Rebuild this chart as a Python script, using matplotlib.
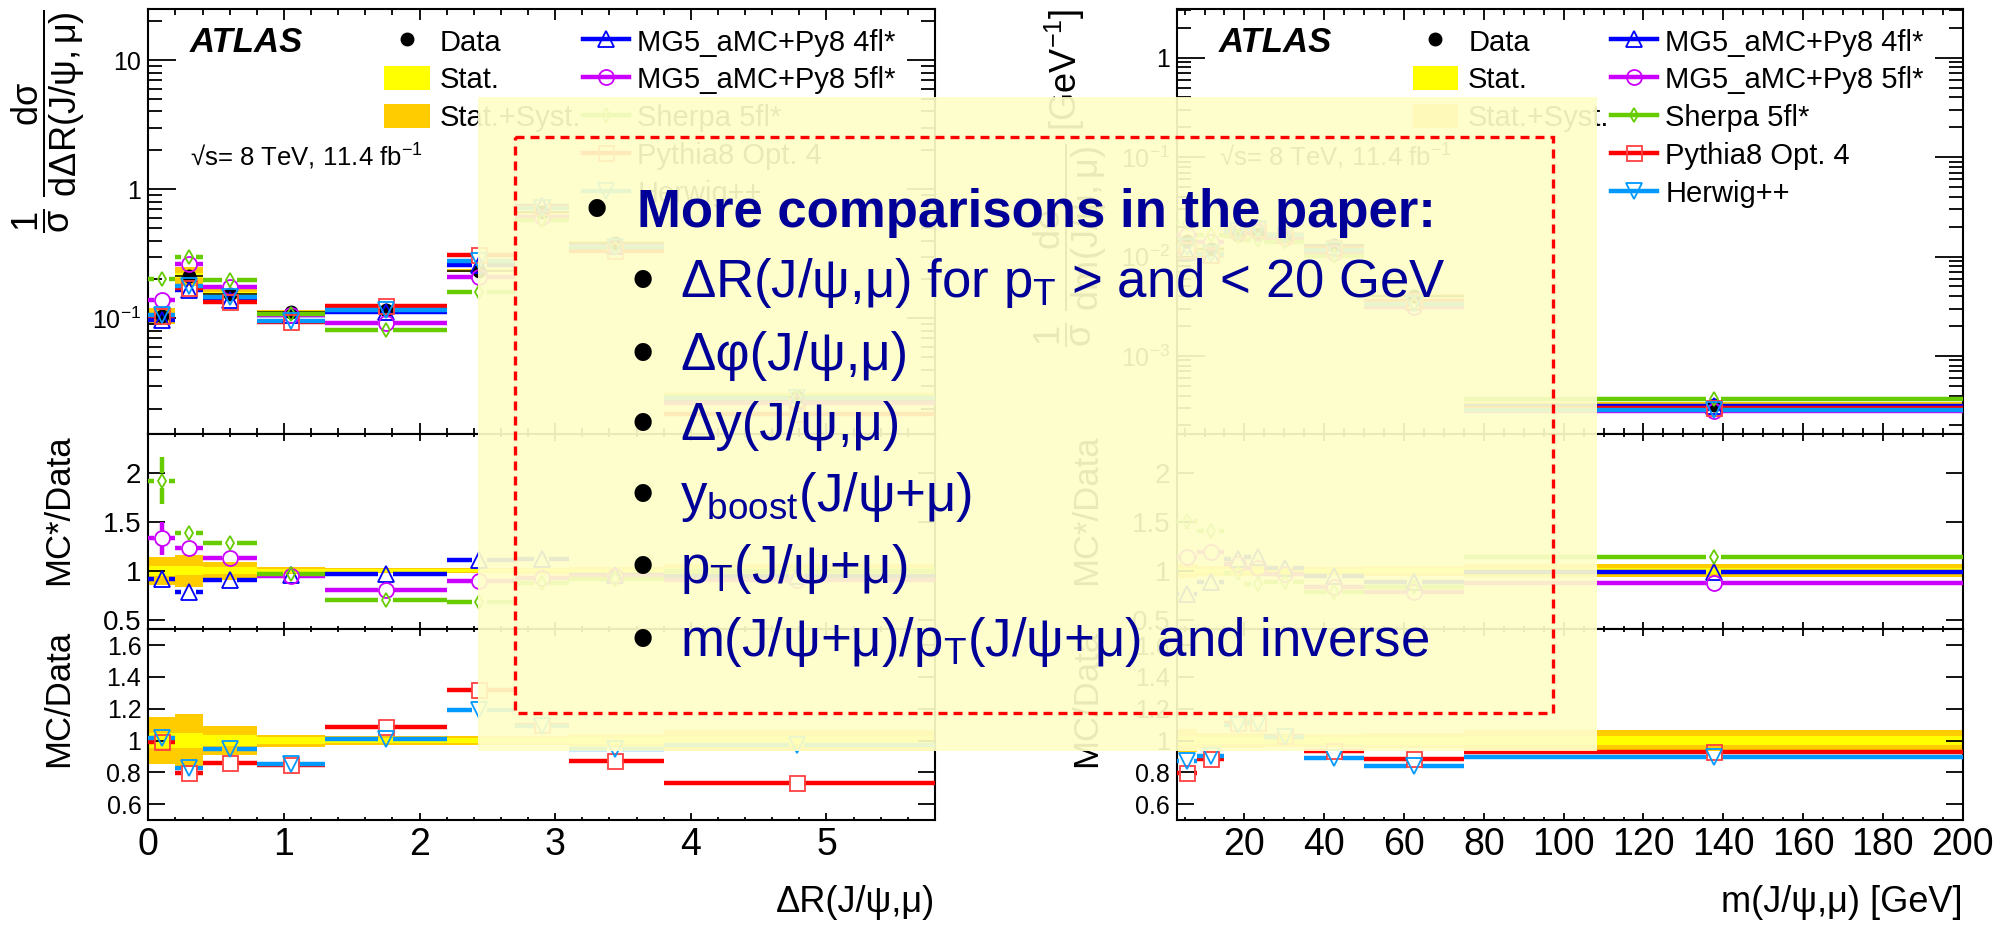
import numpy as np
import matplotlib
matplotlib.use("Agg")
import matplotlib.pyplot as plt
from matplotlib.lines import Line2D
from matplotlib.patches import Patch, Rectangle
from matplotlib.collections import LineCollection
from matplotlib.ticker import (FixedLocator, FuncFormatter, MultipleLocator,
                               LogLocator, NullFormatter, NullLocator)

plt.rcParams["font.family"] = ["Liberation Sans", "DejaVu Sans"]
plt.rcParams["mathtext.fontset"] = "custom"
plt.rcParams["mathtext.rm"] = "Liberation Sans"
plt.rcParams["mathtext.it"] = "Liberation Sans:italic"
plt.rcParams["mathtext.bf"] = "Liberation Sans:bold"
plt.rcParams["mathtext.sf"] = "Liberation Sans"
plt.rcParams["mathtext.default"] = "regular"

# ------------------------- data: Delta R(J/psi, mu) -------------------------
dr_edges = [0.0, 0.2, 0.4, 0.8, 1.3, 2.2, 2.7, 3.1, 3.8, 5.8]
dr_centres = [0.10, 0.30, 0.60, 1.05, 1.75, 2.44, 2.90, 3.44, 4.78]
dr_data = [0.105, 0.214, 0.155, 0.111, 0.115, 0.234, 0.66, 0.38, 0.0247]
dr_stat = [0.05, 0.045, 0.035, 0.02, 0.015, 0.015, 0.015, 0.02, 0.03]
dr_syst = [0.145, 0.165, 0.093, 0.038, 0.028, 0.028, 0.03, 0.04, 0.064]
dr_4fl = [0.92, 0.78, 0.90, 0.955, 0.97, 1.11, 1.12, 0.96, 0.95]
dr_5fl = [1.33, 1.23, 1.13, 0.95, 0.80, 0.89, 0.93, 0.95, 0.90]
dr_sherpa = [1.92, 1.39, 1.28, 0.965, 0.70, 0.68, 0.87, 0.92, 1.00]
dr_pythia = [0.99, 0.795, 0.86, 0.847, 1.088, 1.32, 1.10, 0.874, 0.73]
dr_herwig = [1.015, 0.83, 0.945, 0.853, 1.01, 1.19, 1.09, 0.945, 0.97]
dr_4fl_err = [0.08, 0.03, 0.02, 0.01, 0.01, 0.01, 0.01, 0.01, 0.01]
dr_5fl_err = [0.17, 0.04, 0.02, 0.01, 0.01, 0.01, 0.01, 0.01, 0.01]
dr_sherpa_err = [0.24, 0.05, 0.03, 0.02, 0.01, 0.01, 0.01, 0.01, 0.02]

# ------------------------- data: m(J/psi, mu) -------------------------
m_edges = [3.1, 8, 15, 20, 25, 35, 50, 75, 200]
m_centres = [5.6, 11.7, 18.5, 23.5, 30.2, 42.5, 62.5, 137.6]
m_data = [0.0145, 0.0118, 0.0165, 0.017, 0.016, 0.013, 0.0040, 3.2e-4]
m_stat = [0.03, 0.02, 0.02, 0.02, 0.02, 0.02, 0.025, 0.03]
m_syst = [0.07, 0.05, 0.05, 0.05, 0.04, 0.04, 0.05, 0.065]
m_4fl = [0.76, 0.88, 1.12, 1.14, 1.03, 0.95, 0.88, 0.99]
m_5fl = [1.14, 1.19, 1.07, 1.03, 0.97, 0.83, 0.78, 0.87]
m_sherpa = [1.51, 1.41, 0.98, 0.86, 0.88, 0.78, 0.83, 1.14]
m_pythia = [0.795, 0.883, 1.11, 1.11, 1.03, 0.935, 0.883, 0.927]
m_herwig = [0.87, 0.90, 1.10, 1.11, 1.02, 0.893, 0.84, 0.895]
m_4fl_err = [0.05, 0.03, 0.03, 0.03, 0.02, 0.02, 0.02, 0.02]
m_5fl_err = [0.06, 0.03, 0.03, 0.03, 0.02, 0.02, 0.02, 0.02]
m_sherpa_err = [0.08, 0.05, 0.03, 0.03, 0.02, 0.02, 0.02, 0.02]

legend_data = ["Data", "Stat.", "Stat.+Syst."]
legend_mc = ["MG5_aMC+Py8 4fl*", "MG5_aMC+Py8 5fl*", "Sherpa 5fl*",
             "Pythia8 Opt. 4", "Herwig++"]
overlay_title = "More comparisons in the paper:"
overlay_items = [
    "ΔR(J/ψ,μ) for p$_\\mathrm{T}$ > and < 20 GeV",
    "Δφ(J/ψ,μ)",
    "Δy(J/ψ,μ)",
    "y$_\\mathrm{boost}$(J/ψ+μ)",
    "p$_\\mathrm{T}$(J/ψ+μ)",
    "m(J/ψ+μ)/p$_\\mathrm{T}$(J/ψ+μ) and inverse",
]

# ------------------------- style -------------------------
BLUE = "#0000FF"
MAGENTA = "#CC00FF"
GREEN = "#66CC00"
RED = "#FF0000"
LBLUE = "#0099FF"
YELLOW = "#FFFF00"
ORANGE = "#FFCC00"
NAVY = "#000099"
MC_LW = 3.2
GAP = 7.5  # px gap around hollow markers (ROOT style)

W, H = 2014, 925
fig = plt.figure(figsize=(W / 100, H / 100), dpi=100)


def px_axes(x0, x1, y0, y1):
    return [x0 / W, 1 - y1 / H, (x1 - x0) / W, (y1 - y0) / H]


COLS = [(148.3, 935.0), (1177.0, 1962.7)]
ROWY = [(9.3, 434.0), (434.0, 629.3), (629.3, 820.0)]


def gapped_segments(ax, lo, hi, xc, y, elo=None, ehi=None):
    T = ax.transData
    inv = T.inverted()
    segs = []
    for i, (a, b, c, v) in enumerate(zip(lo, hi, xc, y)):
        xd, yd = T.transform((c, v))
        left = inv.transform((xd - GAP, yd))[0]
        right = inv.transform((xd + GAP, yd))[0]
        if left > a:
            segs.append([(a, v), (left, v)])
        if right < b:
            segs.append([(right, v), (b, v)])
        if elo is not None:
            below = inv.transform((xd, yd - GAP))[1]
            above = inv.transform((xd, yd + GAP))[1]
            if v - elo[i] < below:
                segs.append([(c, v - elo[i]), (c, below)])
            if v + ehi[i] > above:
                segs.append([(c, above), (c, v + ehi[i])])
    return segs


def draw_mc(ax, edges, xc, vals, errs, color, marker, ms, mec, z):
    lo = edges[:-1]
    hi = edges[1:]
    vals = np.asarray(vals, float)
    if errs is not None:
        errs = np.asarray(errs, float)
        segs = gapped_segments(ax, lo, hi, xc, vals, errs, errs)
    else:
        segs = gapped_segments(ax, lo, hi, xc, vals)
    ax.add_collection(LineCollection(segs, colors=color, linewidths=MC_LW,
                                     zorder=z, capstyle="butt"), autolim=False)
    ax.plot(xc, vals, ls="none", marker=marker, ms=ms, mfc="none", mec=mec,
            mew=1.3, zorder=z + 0.2)


def draw_bands(ax, edges, centre, syst, stat):
    lo = np.asarray(edges[:-1], float)
    hi = np.asarray(edges[1:], float)
    c = np.asarray(centre, float)
    sy = np.asarray(syst, float)
    st = np.asarray(stat, float)
    ax.bar(lo, 2 * c * sy, width=hi - lo, bottom=c * (1 - sy), align="edge",
           color=ORANGE, lw=0, zorder=1)
    ax.bar(lo, 2 * c * st, width=hi - lo, bottom=c * (1 - st), align="edge",
           color=YELLOW, lw=0, zorder=1.1)


def log_fmt(v, pos):
    e = int(round(np.log10(v)))
    if e == 0:
        return "1"
    if e == 1:
        return "10"
    return r"$10^{%d}$" % e


def g_fmt(v, pos):
    return "%g" % v


def style(a, xmaj, xmin, ymaj, ymin, ylab, showx):
    a.tick_params(which="both", direction="in", top=True, right=True,
                  width=1.3, colors="black")
    a.tick_params(axis="x", which="major", length=xmaj, labelsize=27, pad=5,
                  labelbottom=showx)
    a.tick_params(axis="x", which="minor", length=xmin)
    a.tick_params(axis="y", which="major", length=ymaj, labelsize=ylab, pad=5)
    a.tick_params(axis="y", which="minor", length=ymin)
    for s in a.spines.values():
        s.set_linewidth(1.5)


SPEC_STAR = [(BLUE, "^", 11.5, BLUE), (MAGENTA, "o", 10.8, MAGENTA),
             (GREEN, "d", 7.6, GREEN)]
SPEC_PLAIN = [(RED, "s", 10.8, "#FF4040"), (LBLUE, "v", 11.5, LBLUE)]


def build_column(col, edges, xc, data, stat, syst, star, star_err, plain,
                 xlim, top_ylim, xmaj, xmin, xlabel, ylabel_top, ylab_x):
    x0, x1 = COLS[col]
    at = fig.add_axes(px_axes(x0, x1, *ROWY[0]))
    am = fig.add_axes(px_axes(x0, x1, *ROWY[1]))
    ab = fig.add_axes(px_axes(x0, x1, *ROWY[2]))
    at.set_yscale("log")
    for a in (at, am, ab):
        a.set_xlim(*xlim)
        a.set_autoscale_on(False)
        a.xaxis.set_major_locator(MultipleLocator(xmaj))
        a.xaxis.set_minor_locator(MultipleLocator(xmin))
        a.xaxis.set_major_formatter(FuncFormatter(g_fmt))
    at.set_ylim(*top_ylim)
    am.set_ylim(0.4, 2.4)
    ab.set_ylim(0.5, 1.7)
    at.yaxis.set_major_locator(LogLocator(base=10, numticks=20))
    at.yaxis.set_minor_locator(LogLocator(base=10, subs=np.arange(2, 10), numticks=50))
    at.yaxis.set_major_formatter(FuncFormatter(log_fmt))
    at.yaxis.set_minor_formatter(NullFormatter())
    am.yaxis.set_major_locator(FixedLocator([0.5, 1.0, 1.5, 2.0]))
    ab.yaxis.set_major_locator(FixedLocator([0.6, 0.8, 1.0, 1.2, 1.4, 1.6]))
    for a in (am, ab):
        a.yaxis.set_major_formatter(FuncFormatter(g_fmt))
        a.yaxis.set_minor_locator(NullLocator())
    style(at, 8, 4, 20, 10, 18, False)
    style(am, 5, 2.5, 12, 6, 20, False)
    style(ab, 5, 2.5, 12, 6, 18, True)

    e = np.asarray(edges, float)
    d = np.asarray(data, float)
    ones = np.ones_like(d)

    # top panel
    draw_bands(at, edges, d, syst, stat)
    at.hlines(d, e[:-1], e[1:], colors="black", lw=1.1, zorder=2)
    allser = list(zip(star, star_err, SPEC_STAR)) + [(p, None, s) for p, s in zip(plain, SPEC_PLAIN)]
    for k, (r, er, (c, mk, ms, mec)) in enumerate(allser):
        vals = d * np.asarray(r)
        errs = d * np.asarray(er) if er is not None else None
        draw_mc(at, e, xc, vals, errs, c, mk, ms, mec, 3 + 0.01 * k)
    at.plot(xc, d, ls="none", marker="o", ms=9, color="black", zorder=2.5)

    # ratio panels
    draw_bands(am, edges, ones, syst, stat)
    draw_bands(ab, edges, ones, syst, stat)
    for k, (r, er, (c, mk, ms, mec)) in enumerate(zip(star, star_err, SPEC_STAR)):
        draw_mc(am, e, xc, r, er, c, mk, ms, mec, 3 + 0.01 * k)
    for k, (r, (c, mk, ms, mec)) in enumerate(zip(plain, SPEC_PLAIN)):
        draw_mc(ab, e, xc, r, None, c, mk, ms, mec, 3 + 0.01 * k)

    # legends
    h1 = [Line2D([], [], ls="none", marker="o", ms=9, color="black"),
          Patch(facecolor=YELLOW, edgecolor="none"),
          Patch(facecolor=ORANGE, edgecolor="none")]
    h2 = [Line2D([], [], color=c, lw=MC_LW, marker=mk, ms=ms, mfc="none",
                 mec=mec, mew=1.3) for (c, mk, ms, mec) in SPEC_STAR + SPEC_PLAIN]
    leg1 = at.legend(h1, legend_data, loc="upper left", bbox_to_anchor=(0.30, 0.955),
                     frameon=False, fontsize=21, handlelength=1.55, handleheight=0.9,
                     handletextpad=0.35, labelspacing=0.33, borderpad=0, borderaxespad=0)
    at.add_artist(leg1)
    at.legend(h2, legend_mc, loc="upper left", bbox_to_anchor=(0.553, 0.955),
              frameon=False, fontsize=21, handlelength=1.55, handleheight=0.9,
              handletextpad=0.3, labelspacing=0.33, borderpad=0, borderaxespad=0)

    at.text(0.053, 0.922, "ATLAS", transform=at.transAxes, fontsize=25,
            fontweight="bold", fontstyle="italic", va="center", ha="left")
    at.text(0.053, 0.652, "√s= 8 TeV, 11.4 fb$^{-1}$", transform=at.transAxes,
            fontsize=18.5, va="center", ha="left")

    # axis labels
    fig.text(ylab_x / W, 1 - 9 / H, ylabel_top, rotation=90, ha="center",
             va="top", fontsize=26)
    fig.text((x0 - 90) / W, 1 - 434 / H, "MC*/Data", rotation=90, ha="center",
             va="top", fontsize=25)
    fig.text((x0 - 90) / W, 1 - 630 / H, "MC/Data", rotation=90, ha="center",
             va="top", fontsize=25)
    fig.text(x1 / W, 1 - 902 / H, xlabel, ha="right", va="center", fontsize=26)


build_column(0, dr_edges, dr_centres, dr_data, dr_stat, dr_syst,
             [dr_4fl, dr_5fl, dr_sherpa], [dr_4fl_err, dr_5fl_err, dr_sherpa_err],
             [dr_pythia, dr_herwig], (0, 5.8), (0.0127, 24.7), 1, 0.2,
             "ΔR(J/ψ,μ)", r"$\dfrac{1}{σ}\ \dfrac{dσ}{dΔR(J/ψ,μ)}$", 48)
build_column(1, m_edges, m_centres, m_data, m_stat, m_syst,
             [m_4fl, m_5fl, m_sherpa], [m_4fl_err, m_5fl_err, m_sherpa_err],
             [m_pythia, m_herwig], (3.1, 200), (1.64e-4, 3.07), 20, 5,
             "m(J/ψ,μ) [GeV]", r"$\dfrac{1}{σ}\ \dfrac{dσ}{dm(J/ψ,μ)}$ [GeV$^{-1}$]", 1070)

# ------------------------- overlay box -------------------------
ov = fig.add_axes([0, 0, 1, 1], zorder=10)
ov.set_xlim(0, W)
ov.set_ylim(H, 0)
ov.axis("off")
ov.add_patch(Rectangle((478, 97), 1119, 654, facecolor="#FEFEC9",
                       edgecolor="none", alpha=0.92, zorder=1))
ov.add_patch(Rectangle((515, 137), 1038, 576, fill=False, edgecolor="#FF0000",
                       lw=2.4, linestyle=(0, (2.7, 1.8)), zorder=2))
ov.text(597, 230, "•", fontsize=46, color="black", ha="center", va="baseline", zorder=3)
ov.text(637, 227, overlay_title, fontsize=38, fontweight="bold", color=NAVY,
        ha="left", va="baseline", zorder=3)
sub_baselines = [297, 370, 440, 511, 583, 656]
for yb, txt in zip(sub_baselines, overlay_items):
    ov.text(643, yb + 4, "•", fontsize=46, color="black", ha="center",
            va="baseline", zorder=3)
    ov.text(680, yb, txt, fontsize=38, color=NAVY, ha="left", va="baseline", zorder=3)

fig.savefig("out.png", dpi=100)
